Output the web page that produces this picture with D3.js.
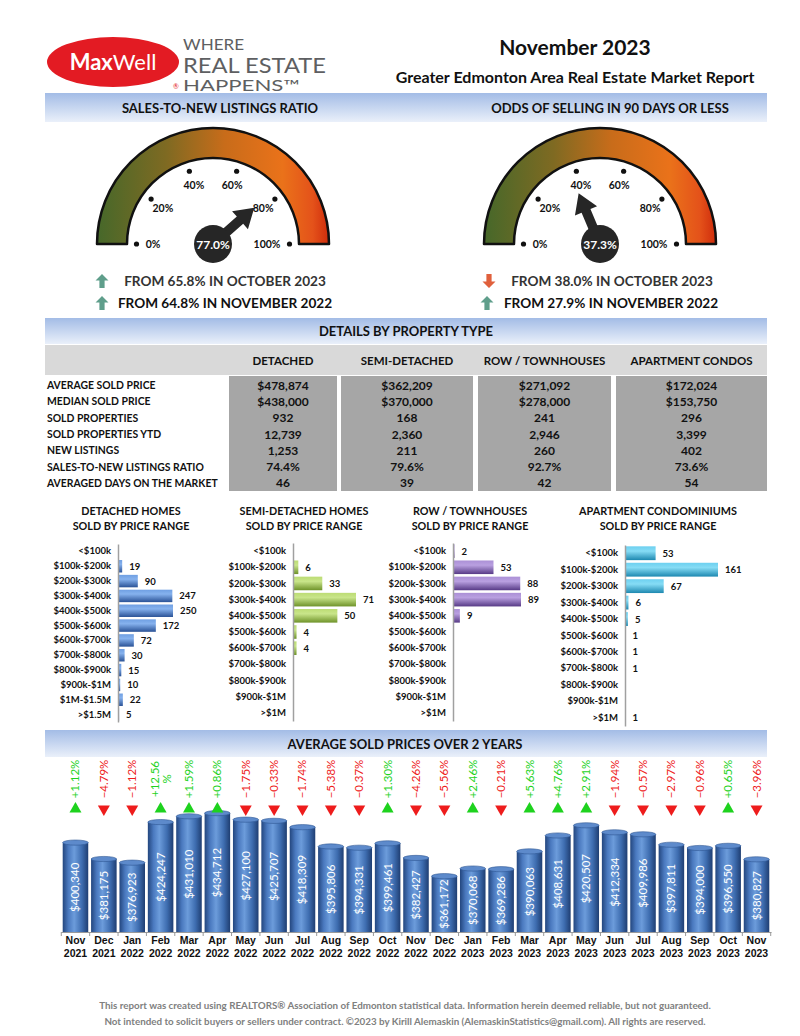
<!DOCTYPE html>
<html>
<head>
<meta charset="utf-8">
<script src="https://cdn.jsdelivr.net/npm/d3@7"></script>
<style>
  body { margin: 0; background: #fff; }
  svg { display: block; }
  text { font-family: Lato, "Open Sans", sans-serif; }
</style>
</head>
<body>
<script>
// ---- data ----
var gaugeTitles = ['SALES-TO-NEW LISTINGS RATIO', 'ODDS OF SELLING IN 90 DAYS OR LESS'];
var gaugeValues = [77.0, 37.3];
var gaugeTicks = [0, 20, 40, 60, 80, 100];
var prevMonthValues = [65.8, 38.0];
var prevYearValues = [64.8, 27.9];

var propTypes = ['DETACHED', 'SEMI-DETACHED', 'ROW / TOWNHOUSES', 'APARTMENT CONDOS'];
var rowLabels = ['AVERAGE SOLD PRICE', 'MEDIAN SOLD PRICE', 'SOLD PROPERTIES', 'SOLD PROPERTIES YTD',
                 'NEW LISTINGS', 'SALES-TO-NEW LISTINGS RATIO', 'AVERAGED DAYS ON THE MARKET'];
var avgSoldPrice = [478874, 362209, 271092, 172024];
var medianSoldPrice = [438000, 370000, 278000, 153750];
var soldProps = [932, 168, 241, 296];
var soldPropsYtd = [12739, 2360, 2946, 3399];
var newListings = [1253, 211, 260, 402];
var snlRatio = [74.4, 79.6, 92.7, 73.6];
var daysOnMarket = [46, 39, 42, 54];

var rangesDetached = ['<$100k', '$100k-$200k', '$200k-$300k', '$300k-$400k', '$400k-$500k', '$500k-$600k',
                      '$600k-$700k', '$700k-$800k', '$800k-$900k', '$900k-$1M', '$1M-$1.5M', '>$1.5M'];
var rangesOther = ['<$100k', '$100k-$200k', '$200k-$300k', '$300k-$400k', '$400k-$500k', '$500k-$600k',
                   '$600k-$700k', '$700k-$800k', '$800k-$900k', '$900k-$1M', '>$1M'];
var detachedSold = [0, 19, 90, 247, 250, 172, 72, 30, 15, 10, 22, 5];
var semiSold = [0, 6, 33, 71, 50, 4, 4, 0, 0, 0, 0];
var rowSold = [2, 53, 88, 89, 9, 0, 0, 0, 0, 0, 0];
var condoSold = [53, 161, 67, 6, 5, 1, 1, 1, 0, 0, 1];

var months = ['Nov 2021', 'Dec 2021', 'Jan 2022', 'Feb 2022', 'Mar 2022', 'Apr 2022', 'May 2022', 'Jun 2022',
              'Jul 2022', 'Aug 2022', 'Sep 2022', 'Oct 2022', 'Nov 2022', 'Dec 2022', 'Jan 2023', 'Feb 2023',
              'Mar 2023', 'Apr 2023', 'May 2023', 'Jun 2023', 'Jul 2023', 'Aug 2023', 'Sep 2023', 'Oct 2023', 'Nov 2023'];
var avgPrices = [400340, 381175, 376923, 424247, 431010, 434712, 427100, 425707, 418309, 395806, 394331, 399461,
                 382427, 361172, 370068, 369286, 390063, 408631, 420507, 412334, 409986, 397811, 394000, 396550, 380827];
var pctChange = [1.12, -4.79, -1.12, 12.56, 1.59, 0.86, -1.75, -0.33, -1.74, -5.38, -0.37, 1.30,
                 -4.26, -5.56, 2.46, -0.21, 5.63, 4.76, 2.91, -1.94, -0.57, -2.97, -0.96, 0.65, -3.96];

// ---- page ----
var W = 800, H = 1036;
var svg = d3.select('body').append('svg').attr('width', W).attr('height', H);
var defs = svg.append('defs');

function linGrad(id, stops, vertical) {
    var g = defs.append('linearGradient').attr('id', id)
        .attr('x1', 0).attr('y1', 0).attr('x2', vertical ? 0 : 1).attr('y2', vertical ? 1 : 0);
    stops.forEach(function (s) {
        g.append('stop').attr('offset', s[0]).attr('stop-color', s[1]);
    });
}
linGrad('band', [[0, '#a3bce6'], [1, '#eaf0fa']], true);
linGrad('gBlue', [[0, '#6f9fe2'], [0.35, '#86b2ee'], [1, '#2a5296']], true);
linGrad('gGreen', [[0, '#bcdc74'], [0.35, '#c9e58a'], [1, '#6f932a']], true);
linGrad('gPurple', [[0, '#ab90d6'], [0.35, '#b9a0e0'], [1, '#573a86']], true);
linGrad('gCyan', [[0, '#6dd0f0'], [0.35, '#86dcf5'], [1, '#1d88b0']], true);
linGrad('colBar', [[0, '#23467e'], [0.22, '#4a79bf'], [0.45, '#6c9cdb'], [0.75, '#3e6db0'], [1, '#1f3e72']], false);
defs.append('linearGradient').attr('id', 'gaugeGrad').attr('gradientUnits', 'userSpaceOnUse')
    .attr('x1', -116).attr('x2', 116).attr('y1', 0).attr('y2', 0)
    .selectAll('stop')
    .data([[0, '#46682a'], [0.3, '#7f6a22'], [0.55, '#c86c1a'], [0.8, '#ea721a'], [0.93, '#e4521a'], [1, '#cf2c0c']])
    .enter().append('stop')
    .attr('offset', function (d) { return d[0]; })
    .attr('stop-color', function (d) { return d[1]; });

// header
svg.append('ellipse').attr('cx', 113).attr('cy', 62).attr('rx', 66).attr('ry', 25).attr('fill', '#e31b23');
var logo = svg.append('text').attr('x', 113).attr('y', 70).attr('text-anchor', 'middle')
    .attr('fill', '#fff').style('font-size', '22px');
logo.append('tspan').attr('font-weight', 'bold').text('Max');
logo.append('tspan').text('Well');
var tag = svg.append('g').attr('fill', '#5e5f62').style('font-family', '"Liberation Sans Narrow", "Arial Narrow", sans-serif');
tag.append('text').attr('x', 183).attr('y', 50).style('font-size', '15px')
    .attr('textLength', 61).attr('lengthAdjust', 'spacingAndGlyphs').text('WHERE');
tag.append('text').attr('x', 183).attr('y', 73).style('font-size', '21px')
    .attr('textLength', 143).attr('lengthAdjust', 'spacingAndGlyphs').text('REAL ESTATE');
tag.append('text').attr('x', 183).attr('y', 91).style('font-size', '15px')
    .attr('textLength', 117).attr('lengthAdjust', 'spacingAndGlyphs').text('HAPPENS\u2122');
svg.append('text').attr('x', 173).attr('y', 89).attr('fill', '#e31b23').style('font-size', '7px').text('\u00ae');

svg.append('text').attr('x', 575).attr('y', 55).attr('text-anchor', 'middle')
    .style('font-size', '21px').style('font-weight', 'bold').attr('fill', '#111').text('November 2023');
svg.append('text').attr('x', 575).attr('y', 83).attr('text-anchor', 'middle')
    .style('font-size', '16px').style('font-weight', 'bold').attr('fill', '#111')
    .text('Greater Edmonton Area Real Estate Market Report');

function band(y, h) {
    svg.append('rect').attr('x', 45).attr('y', y).attr('width', 722).attr('height', h).attr('fill', 'url(#band)');
}
function bandText(x, y, t) {
    svg.append('text').attr('x', x).attr('y', y).attr('text-anchor', 'middle').attr('dominant-baseline', 'central')
        .style('font-size', '13px').style('font-weight', 'bold').attr('fill', '#111').text(t);
}

// ---- gauges ----
band(93, 29);
var gaugeCenters = [213, 600];
var angle = d3.scaleLinear().domain([0, 100]).range([-Math.PI / 2, Math.PI / 2]);
var gaugeArc = d3.arc().innerRadius(86).outerRadius(116).startAngle(-Math.PI / 2).endAngle(Math.PI / 2);
var monthsPrev = ['OCTOBER 2023', 'NOVEMBER 2022'];

function arrowIcon(x, y, up) {
    var pts = [[0, -7], [6.5, -0.5], [2.6, -0.5], [2.6, 7], [-2.6, 7], [-2.6, -0.5], [-6.5, -0.5]];
    svg.append('polygon')
        .attr('points', pts.map(function (p) { return [x + p[0], y + (up ? p[1] : -p[1])].join(','); }).join(' '))
        .attr('fill', up ? '#5f9e8b' : '#e0603c');
}

gaugeValues.forEach(function (v, i) {
    var cx = gaugeCenters[i], cy = 244;
    bandText([220, 610][i], 108, gaugeTitles[i]);
    var g = svg.append('g').attr('transform', 'translate(' + cx + ',' + cy + ')');
    g.append('path').attr('d', gaugeArc()).attr('fill', 'url(#gaugeGrad)')
        .attr('stroke', '#111').attr('stroke-width', 2.5).attr('stroke-linejoin', 'round');

    g.selectAll('circle.dot').data(gaugeTicks).enter().append('circle').attr('class', 'dot')
        .attr('cx', function (d) { return 76.5 * Math.sin(angle(d)); })
        .attr('cy', function (d) { return -76.5 * Math.cos(angle(d)); })
        .attr('r', 2.6).attr('fill', '#111');
    g.selectAll('text.tick').data(gaugeTicks).enter().append('text').attr('class', 'tick')
        .attr('x', function (d) { return 62 * Math.sin(angle(d)) + (d === 100 ? -8 : d === 0 ? 2 : 0); })
        .attr('y', function (d) { return -62 * Math.cos(angle(d)); })
        .attr('text-anchor', 'middle').attr('dominant-baseline', 'central')
        .style('font-size', '10.5px').style('font-weight', 'bold').attr('fill', '#111')
        .text(function (d) { return d + '%'; });

    var deg = angle(v) * 180 / Math.PI;
    g.append('polygon')
        .attr('points', [[-4.8, -10], [4.8, -10], [4.8, -36], [12, -36], [0, -55], [-12, -36], [-4.8, -36]].join(' '))
        .attr('transform', 'rotate(' + deg + ')').attr('fill', '#262626');
    g.append('circle').attr('r', 19).attr('fill', '#262626');
    g.append('text').attr('text-anchor', 'middle').attr('dominant-baseline', 'central')
        .attr('fill', '#fff').style('font-size', '12px').style('font-weight', 'bold')
        .text(d3.format('.1f')(v) + '%');

    [prevMonthValues[i], prevYearValues[i]].forEach(function (p, j) {
        var y = [281, 303][j];
        var tx = [[225, 225], [612, 611]][i][j];
        arrowIcon([[102, 102], [489, 487]][i][j], y, v >= p);
        svg.append('text').attr('x', tx).attr('y', y).attr('text-anchor', 'middle').attr('dominant-baseline', 'central')
            .style('font-size', '13.6px').style('font-weight', 'bold').attr('fill', j === 0 ? '#333' : '#111')
            .text('FROM ' + d3.format('.1f')(p) + '% IN ' + monthsPrev[j]);
    });
});

// ---- table ----
band(318, 26);
bandText(406, 331, 'DETAILS BY PROPERTY TYPE');
svg.append('rect').attr('x', 45).attr('y', 345).attr('width', 722).attr('height', 30).attr('fill', '#d9d9d9');
var colEdges = [[229, 337], [341, 473], [478, 611], [616, 767]];
var money = d3.format('$,.0f'), num = d3.format(',');
var tableRows = [avgSoldPrice.map(money), medianSoldPrice.map(money), soldProps.map(num), soldPropsYtd.map(num),
                 newListings.map(num), snlRatio.map(function (d) { return d3.format('.1f')(d) + '%'; }), daysOnMarket.map(num)];
var rowY = d3.scaleBand().domain(rowLabels).range([377, 491]);
colEdges.forEach(function (c, k) {
    svg.append('rect').attr('x', c[0]).attr('y', 376).attr('width', c[1] - c[0]).attr('height', 115).attr('fill', '#a6a6a6');
    svg.append('text').attr('x', (c[0] + c[1]) / 2).attr('y', 360).attr('text-anchor', 'middle')
        .attr('dominant-baseline', 'central').style('font-size', '11.5px').style('font-weight', 'bold')
        .attr('fill', '#111').text(propTypes[k]);
});
svg.selectAll('text.rowlab').data(rowLabels).enter().append('text').attr('class', 'rowlab')
    .attr('x', 47).attr('y', function (d) { return rowY(d) + rowY.bandwidth() / 2; })
    .attr('dominant-baseline', 'central').style('font-size', '10.4px').style('font-weight', 'bold')
    .attr('fill', '#111').text(function (d) { return d; });
tableRows.forEach(function (vals, r) {
    vals.forEach(function (v, k) {
        svg.append('text').attr('x', (colEdges[k][0] + colEdges[k][1]) / 2)
            .attr('y', rowY(rowLabels[r]) + rowY.bandwidth() / 2)
            .attr('text-anchor', 'middle').attr('dominant-baseline', 'central')
            .style('font-size', '12px').style('font-weight', 'bold').attr('fill', '#111').text(v);
    });
});

// ---- price range charts ----
var smallCharts = [
    { t: 'DETACHED HOMES', cats: rangesDetached, vals: detachedSold, ax: 118, r: [544, 722], max: 250, len: 55, fill: 'gBlue', cx: 131 },
    { t: 'SEMI-DETACHED HOMES', cats: rangesOther, vals: semiSold, ax: 293, r: [543, 721], max: 71, len: 63, fill: 'gGreen', cx: 304 },
    { t: 'ROW / TOWNHOUSES', cats: rangesOther, vals: rowSold, ax: 453, r: [543, 721], max: 89, len: 68, fill: 'gPurple', cx: 470 },
    { t: 'APARTMENT CONDOMINIUMS', cats: rangesOther, vals: condoSold, ax: 625, r: [545, 726], max: 161, len: 93, fill: 'gCyan', cx: 658 }
];
smallCharts.forEach(function (c) {
    [c.t, 'SOLD BY PRICE RANGE'].forEach(function (t, j) {
        svg.append('text').attr('x', c.cx).attr('y', 510 + j * 15).attr('text-anchor', 'middle')
            .attr('dominant-baseline', 'central').style('font-size', '10.8px').style('font-weight', 'bold')
            .attr('fill', '#111').text(t);
    });
    var y = d3.scaleBand().domain(c.cats).range(c.r).paddingInner(0.16).paddingOuter(0.08);
    var x = d3.scaleLinear().domain([0, c.max]).range([0, c.len]);
    var g = svg.append('g').attr('transform', 'translate(' + c.ax + ',0)');
    var rows = c.cats.map(function (cat, i) { return { cat: cat, v: c.vals[i] }; });
    g.selectAll('rect').data(rows).enter().append('rect')
        .attr('x', 0).attr('y', function (d) { return y(d.cat); })
        .attr('width', function (d) { return x(d.v); }).attr('height', y.bandwidth())
        .attr('fill', 'url(#' + c.fill + ')');
    g.selectAll('text.val').data(rows.filter(function (d) { return d.v > 0; })).enter().append('text').attr('class', 'val')
        .attr('x', function (d) { return x(d.v) + 7; })
        .attr('y', function (d) { return y(d.cat) + y.bandwidth() / 2; })
        .attr('dominant-baseline', 'central').style('font-size', '9.5px').style('font-weight', 'bold')
        .attr('fill', '#111').text(function (d) { return d.v; });
    var axis = g.append('g').call(d3.axisLeft(y).tickSize(0).tickPadding(7));
    axis.select('.domain').attr('stroke', '#a0a0a0').attr('stroke-width', 1.5);
    axis.selectAll('text').style('font-family', 'Lato, sans-serif').style('font-size', '9.5px')
        .style('font-weight', 'bold').attr('fill', '#111');
});

// ---- average sold prices ----
band(730, 27);
bandText(405, 743.5, 'AVERAGE SOLD PRICES OVER 2 YEARS');
var base = 932;
var xB = d3.scaleBand().domain(months).range([61, 771]).paddingInner(0.1).paddingOuter(0.06);
var yB = d3.scaleLinear().domain([296000, 440000]).range([base, 808.6]);
var bw = xB.bandwidth();
var cols = months.map(function (m, i) { return { m: m, v: avgPrices[i], p: pctChange[i] }; });
var bars = svg.append('g');
bars.selectAll('rect').data(cols).enter().append('rect')
    .attr('x', function (d) { return xB(d.m); }).attr('y', function (d) { return yB(d.v); })
    .attr('width', bw).attr('height', function (d) { return base - yB(d.v); })
    .attr('fill', 'url(#colBar)');
bars.selectAll('ellipse').data(cols).enter().append('ellipse')
    .attr('cx', function (d) { return xB(d.m) + bw / 2; }).attr('cy', function (d) { return yB(d.v); })
    .attr('rx', bw / 2).attr('ry', 2.6).attr('fill', '#5d8acb').attr('stroke', '#2f5793').attr('stroke-width', 0.6);
bars.selectAll('text').data(cols).enter().append('text')
    .attr('transform', function (d) {
        return 'translate(' + (xB(d.m) + bw / 2 + 4) + ',' + ((yB(d.v) + base) / 2) + ') rotate(-90)';
    })
    .attr('text-anchor', 'middle').attr('fill', '#fff').style('font-size', '11.5px')
    .text(function (d) { return money(d.v); });

var pctG = svg.append('g').style('font-family', '"Liberation Sans Narrow", "Arial Narrow", sans-serif');
cols.forEach(function (d) {
    var cx = xB(d.m) + bw / 2;
    var col = d.p >= 0 ? '#1ed21e' : '#ee1c1c';
    var label = d3.format('+.2f')(d.p) + '%';
    var lines = label.length > 6 ? [label.slice(0, -1), '%'] : [label];
    var t = pctG.append('text')
        .attr('transform', 'translate(' + (cx + 4 - (lines.length - 1) * 6) + ',779) rotate(-90)')
        .attr('text-anchor', 'middle').attr('fill', col).style('font-size', '11.5px');
    lines.forEach(function (l, k) {
        t.append('tspan').attr('x', 0).attr('dy', k ? '1.05em' : 0).text(l);
    });
    pctG.append('path').attr('d', d3.symbol(d3.symbolTriangle, 62)())
        .attr('transform', 'translate(' + cx + ',809) rotate(' + (d.p >= 0 ? 0 : 180) + ')')
        .attr('fill', col);
});

var xAxis = svg.append('g').attr('transform', 'translate(0,' + base + ')')
    .call(d3.axisBottom(xB).tickSize(0).tickPadding(5).tickSizeOuter(0));
xAxis.select('.domain').attr('stroke', '#9a9a9a').attr('stroke-width', 1.2);
xAxis.selectAll('.tick text').each(function (m) {
    var t = d3.select(this).text('');
    var parts = m.split(' ');
    t.append('tspan').attr('x', 0).attr('dy', '0.71em').text(parts[0]);
    t.append('tspan').attr('x', 0).attr('dy', '1.2em').text(parts[1]);
}).style('font-family', '"Liberation Sans Narrow", "Arial Narrow", sans-serif')
  .style('font-size', '10.5px').style('font-weight', 'bold').attr('fill', '#111');
var step = xB.step();
xAxis.selectAll('line.sep').data(d3.range(months.length + 1)).enter().append('line').attr('class', 'sep')
    .attr('x1', function (i) { return xB(months[0]) - (step - bw) / 2 + i * step; })
    .attr('x2', function (i) { return xB(months[0]) - (step - bw) / 2 + i * step; })
    .attr('y1', 0).attr('y2', 4).attr('stroke', '#9a9a9a');

// ---- footer ----
['This report was created using REALTORS\u00ae Association of Edmonton statistical data. Information herein deemed reliable, but not guaranteed.',
 'Not intended to solicit buyers or sellers under contract. \u00a92023 by Kirill Alemaskin (AlemaskinStatistics@gmail.com). All rights are reserved.']
.forEach(function (t, i) {
    svg.append('text').attr('x', 405).attr('y', 1005 + i * 16).attr('text-anchor', 'middle')
        .attr('dominant-baseline', 'central').style('font-size', '9.8px').style('font-weight', 'bold')
        .attr('fill', '#808080').text(t);
});
</script>
</body>
</html>
